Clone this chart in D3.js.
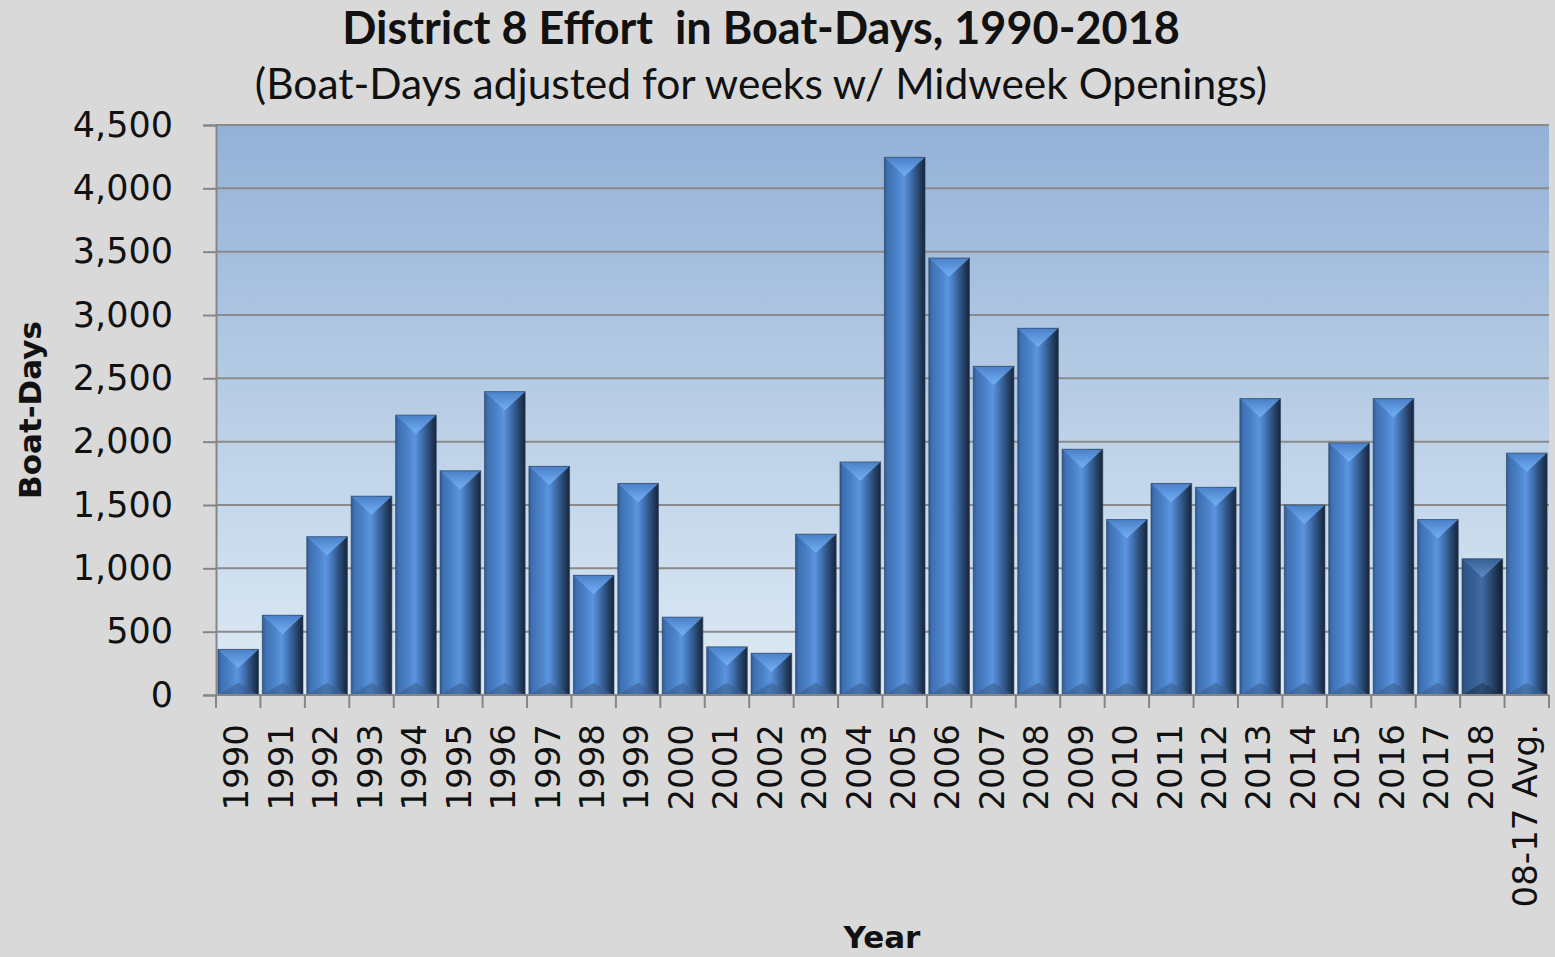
<!DOCTYPE html>
<html>
<head>
<meta charset="utf-8">
<script src="https://cdn.jsdelivr.net/npm/d3@7"></script>
<style>
  html, body { margin: 0; padding: 0; background: #d9d9d9; }
  svg { display: block; }
</style>
</head>
<body>
<svg id="chart" width="1555" height="957"></svg>
<script>
// ---- data ----
const categories = ["1990","1991","1992","1993","1994","1995","1996","1997","1998","1999",
  "2000","2001","2002","2003","2004","2005","2006","2007","2008","2009",
  "2010","2011","2012","2013","2014","2015","2016","2017","2018","08-17 Avg."];
const boatDays = [360, 630, 1250, 1570, 2210, 1770, 2395, 1805, 945, 1670,
  615, 380, 330, 1270, 1840, 4245, 3450, 2595, 2895, 1940,
  1385, 1670, 1640, 2340, 1500, 1990, 2340, 1385, 1075, 1910];
const highlighted = ["2018"];
const yTicks = [0, 500, 1000, 1500, 2000, 2500, 3000, 3500, 4000, 4500];
const titleText = "District 8 Effort\u00A0 in Boat-Days, 1990-2018";
const subtitleText = "(Boat-Days adjusted for weeks w/ Midweek Openings)";
const xTitle = "Year";
const yTitle = "Boat-Days";

// ---- layout ----
const W = 1555, H = 957;
const plot = { left: 216, right: 1549, top: 125, bottom: 695 };
const svg = d3.select("#chart");

const x = d3.scaleBand().domain(categories).range([plot.left, plot.right])
  .paddingInner(0.085).paddingOuter(0.0425);
const y = d3.scaleLinear().domain([0, 4500]).range([plot.bottom, plot.top]);

const defs = svg.append("defs");
const bg = defs.append("linearGradient").attr("id", "plotBg")
  .attr("x1", 0).attr("y1", 0).attr("x2", 0).attr("y2", 1);
bg.append("stop").attr("offset", "0%").attr("stop-color", "#93b1d7");
bg.append("stop").attr("offset", "100%").attr("stop-color", "#dfebf5");

function barGradient(id, stops) {
  const g = defs.append("linearGradient").attr("id", id)
    .attr("x1", 0).attr("y1", 0).attr("x2", 1).attr("y2", 0);
  stops.forEach(s => g.append("stop").attr("offset", s[0]).attr("stop-color", s[1]));
}
barGradient("barNormal", [["0%","#2e5a92"],["8%","#3f71b3"],["30%","#4b82c9"],["47%","#5c95de"],
  ["55%","#4f86cd"],["70%","#3a659f"],["88%","#233d60"],["100%","#17263c"]]);
barGradient("barDark", [["0%","#264a78"],["8%","#30578a"],["30%","#375f93"],["47%","#426ca3"],
  ["55%","#3a6397"],["70%","#2c4b75"],["88%","#1b2f4a"],["100%","#131f32"]]);

function topGradient(id, c1, c2) {
  const g = defs.append("linearGradient").attr("id", id)
    .attr("x1", 0).attr("y1", 0).attr("x2", 0).attr("y2", 1);
  g.append("stop").attr("offset", "0%").attr("stop-color", c1);
  g.append("stop").attr("offset", "100%").attr("stop-color", c2);
}
topGradient("topNormal", "#4a80c8", "#74b0f6");
topGradient("topDark", "#385f92", "#5a8cc8");

// background
svg.append("rect").attr("x", 0).attr("y", 0).attr("width", W).attr("height", H).attr("fill", "#d9d9d9");
svg.append("rect").attr("x", plot.left).attr("y", plot.top)
  .attr("width", plot.right - plot.left).attr("height", plot.bottom - plot.top)
  .attr("fill", "url(#plotBg)");

// gridlines
svg.append("g").selectAll("line").data(yTicks.filter(t => t > 0)).join("line")
  .attr("x1", plot.left).attr("x2", plot.right)
  .attr("y1", d => y(d)).attr("y2", d => y(d))
  .attr("stroke", "#8a8a8a").attr("stroke-width", 2);

// bars
const bars = svg.append("g").selectAll("g").data(categories.map((c, i) => ({ c, v: boatDays[i] }))).join("g");
bars.each(function(d) {
  const g = d3.select(this);
  const x0 = x(d.c), w = x.bandwidth(), y0 = y(d.v), y1 = y(0);
  const dark = highlighted.includes(d.c);
  g.append("rect").attr("x", x0).attr("y", y0).attr("width", w).attr("height", y1 - y0)
    .attr("fill", dark ? "url(#barDark)" : "url(#barNormal)");
  const depth = Math.min(w * 0.46, (y1 - y0) * 0.5);
  // bottom bevel
  const bd = Math.min(w * 0.3, (y1 - y0) * 0.4);
  g.append("path")
    .attr("d", `M${x0},${y1} L${x0 + w / 2},${y1 - bd} L${x0 + w},${y1} Z`)
    .attr("fill", dark ? "#1f3452" : "#3a5f90").attr("opacity", 0.6);
  // top bevel
  g.append("path")
    .attr("d", `M${x0},${y0} L${x0 + w},${y0} L${x0 + w / 2},${y0 + depth} Z`)
    .attr("fill", dark ? "url(#topDark)" : "url(#topNormal)");
  g.append("rect").attr("x", x0).attr("y", y0).attr("width", w).attr("height", y1 - y0)
    .attr("fill", "none").attr("stroke", "#2a3d58").attr("stroke-opacity", 0.6).attr("stroke-width", 1);
});

// y axis
const yAxis = d3.axisLeft(y).tickValues(yTicks).tickSize(13).tickPadding(30)
  .tickFormat(d3.format(","));
const yg = svg.append("g").attr("transform", `translate(${plot.left},0)`).call(yAxis);
yg.select(".domain").attr("stroke", "#868686").attr("stroke-width", 2);
yg.selectAll(".tick line").attr("stroke", "#868686").attr("stroke-width", 2);
yg.selectAll(".tick text").attr("font-family", "DejaVu Sans, Verdana, sans-serif")
  .attr("font-size", 35).attr("fill", "#111");

// x axis line & boundary ticks
const step = x.step();
const bounds = d3.range(categories.length + 1).map(i => plot.left + i * step);
svg.append("line").attr("x1", plot.left).attr("x2", plot.right)
  .attr("y1", plot.bottom).attr("y2", plot.bottom)
  .attr("stroke", "#868686").attr("stroke-width", 2);
svg.append("g").selectAll("line").data(bounds).join("line")
  .attr("x1", d => d).attr("x2", d => d)
  .attr("y1", plot.bottom).attr("y2", plot.bottom + 13)
  .attr("stroke", "#868686").attr("stroke-width", 2);

// x labels
const xAxis = d3.axisBottom(x).tickSize(0).tickPadding(0);
const xg = svg.append("g").attr("transform", `translate(0,${plot.bottom})`).call(xAxis);
xg.select(".domain").remove();
xg.selectAll(".tick text")
  .attr("font-family", "DejaVu Sans, Verdana, sans-serif")
  .attr("font-size", 34).attr("fill", "#111")
  .attr("text-anchor", "end")
  .attr("transform", "rotate(-90)")
  .attr("x", -29).attr("y", -2).attr("dy", "0.36em");

// titles
svg.append("text").attr("x", 761).attr("y", 44).attr("text-anchor", "middle")
  .attr("font-family", "Lato, 'Open Sans', sans-serif").attr("font-weight", "bold")
  .attr("font-size", 45).attr("fill", "#111").text(titleText);
svg.append("text").attr("x", 761).attr("y", 99).attr("text-anchor", "middle")
  .attr("font-family", "Lato, 'Open Sans', sans-serif")
  .attr("font-size", 42.5).attr("fill", "#111").text(subtitleText);
svg.append("text").attr("x", 882).attr("y", 948).attr("text-anchor", "middle")
  .attr("font-family", "DejaVu Sans, Verdana, sans-serif").attr("font-weight", "bold")
  .attr("font-size", 31).attr("fill", "#111").text(xTitle);
svg.append("text").attr("transform", "translate(41,410) rotate(-90)").attr("text-anchor", "middle")
  .attr("font-family", "DejaVu Sans, Verdana, sans-serif").attr("font-weight", "bold")
  .attr("font-size", 31).attr("fill", "#111").text(yTitle);
</script>
</body>
</html>
